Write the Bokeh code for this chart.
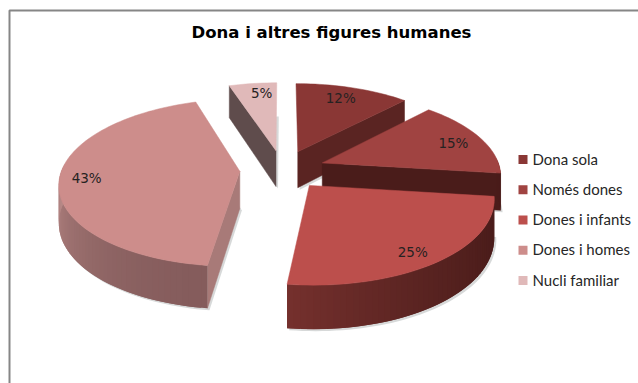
import math
from bokeh.embed import file_html
from bokeh.resources import INLINE
from bokeh.plotting import figure
from bokeh.core.properties import value

# Chart content
title = "Dona i altres figures humanes"
categories = ["Dona sola", "Només dones", "Dones i infants", "Dones i homes", "Nucli familiar"]
percent = [12, 15, 25, 43, 5]

# Slice colours
top_colors = ["#8a3735", "#a04341", "#bc4f4c", "#cd8d8b", "#e0b9b9"]
inner_wall = ["#5a2422", "#4a1c1a", "#4a1c1a", "#a87a78", "#5f4c4c"]
wall_right = ["#4a1c1a", "#4a1c1a", "#4a1c1a", "#855c5c", "#5f4c4c"]
wall_left = ["#4a1c1a", "#4a1c1a", "#74302d", "#b98a88", "#5f4c4c"]

# Projection of the tilted disc onto the page
CX, CY = 282.0, 169.0
RADIUS, TILT = 178.0, 81.7
PERSPECTIVE = 0.134
EXPLODE = 0.24
THICKNESS = 37.0

# Label placement along each slice's middle radius
label_reach = [0.76, 0.83, 0.82, 0.85, 0.59]
label_shift = [-4, 2, 5, 0, -16]


def project(x, z, drop=0.0):
    s = 1.0 / (1.0 + PERSPECTIVE * z)
    return CX + RADIUS * x * s, CY - TILT * z * s + drop * s


def hex_mix(a, b, t):
    ca = [int(a[i:i + 2], 16) for i in (1, 3, 5)]
    cb = [int(b[i:i + 2], 16) for i in (1, 3, 5)]
    return "#" + "".join(f"{round(p + (q - p) * t):02x}" for p, q in zip(ca, cb))


p = figure(width=638, height=383, x_range=(0, 638), y_range=(383, 0),
           toolbar_location=None, output_backend="svg", min_border=0,
           outline_line_color=None, background_fill_color="white",
           border_fill_color="white")
p.axis.visible = False
p.grid.visible = False

# Chart frame
p.line([9, 9, 640], [385, 10, 10], line_color="#868686", line_width=2)

# Far slices are painted first so nearer ones overlap them
order = [4, 0, 1, 3, 2]
starts = []
acc = 0.0
for v in percent:
    starts.append(acc)
    acc += v

for i in order:
    a0 = math.radians(starts[i] * 3.6)
    a1 = math.radians((starts[i] + percent[i]) * 3.6)
    mid = (a0 + a1) / 2
    ox, oz = EXPLODE * math.sin(mid), EXPLODE * math.cos(mid)
    n = max(8, int(percent[i] * 2))
    angles = [a0 + (a1 - a0) * k / n for k in range(n + 1)]
    rim = [(ox + math.sin(t), oz + math.cos(t)) for t in angles]

    def radial_wall(px, pz):
        xs, ys = [], []
        for (qx, qz, d) in [(ox, oz, 0), (px, pz, 0), (px, pz, THICKNESS), (ox, oz, THICKNESS)]:
            sx, sy = project(qx, qz, d)
            xs.append(sx)
            ys.append(sy)
        return xs, ys

    # soft contact shadow under the slice
    shadow_x, shadow_y = [], []
    for qx, qz in rim:
        sx, sy = project(qx, qz, THICKNESS)
        shadow_x.append(sx + 2)
        shadow_y.append(sy + 2)
    sx, sy = project(ox, oz, THICKNESS)
    shadow_x.append(sx + 2)
    shadow_y.append(sy + 2)
    p.patch(shadow_x, shadow_y, fill_color="#9aa0a0", fill_alpha=0.4, line_color=None)

    # radial side faces turned towards the viewer
    for (qx, qz), visible in [(rim[0], math.sin(a0) < 0), (rim[-1], math.sin(a1) > 0)]:
        if visible:
            xs, ys = radial_wall(qx, qz)
            p.patch(xs, ys, fill_color=inner_wall[i], line_color=inner_wall[i], line_width=0.5)

    # curved outer wall, only where it faces the front; each band runs under the next
    front = [k for k in range(n) if math.cos(angles[k] + (a1 - a0) / (2 * n)) < 0.05]
    for pos, k in enumerate(front):
        xa, za = rim[k]
        xb, zb = rim[min(k + 2, n)]
        pts = [project(xa, za), project(xb, zb), project(xb, zb, THICKNESS), project(xa, za, THICKNESS)]
        col = hex_mix(wall_right[i], wall_left[i], (pos / max(1, len(front) - 1)) ** 1.7)
        p.patch([q[0] for q in pts], [q[1] for q in pts], fill_color=col, line_color=None)

    # top surface
    top = [project(ox, oz)] + [project(qx, qz) for qx, qz in rim]
    p.patch([q[0] for q in top], [q[1] for q in top], fill_color=top_colors[i], line_color=top_colors[i], line_width=0.5)

    # percentage label
    reach = EXPLODE + label_reach[i]
    lx, ly = project(reach * math.sin(mid), reach * math.cos(mid))
    p.text([lx], [ly + label_shift[i]], text=[f"{percent[i]}%"], text_align="center", text_baseline="middle",
           text_font=value("DejaVu Sans"), text_font_size="13.5px", text_color="#262222")

# Title
p.text([331], [32], text=[title], text_align="center", text_baseline="middle",
       text_font=value("DejaVu Sans"), text_font_style="bold", text_font_size="16.5px", text_color="#000000")

# Legend
legend_y = [159 + 30.25 * k for k in range(len(categories))]
p.scatter([522.5] * len(categories), legend_y, marker="square", size=9, fill_color=top_colors, line_color=None)
p.text([532] * len(categories), [y - 1 for y in legend_y], text=categories, text_align="left", text_baseline="middle",
       text_font=value("Lato"), text_font_size="15px", text_color="#262626")

open("out.html", "w").write(file_html(p, INLINE))
